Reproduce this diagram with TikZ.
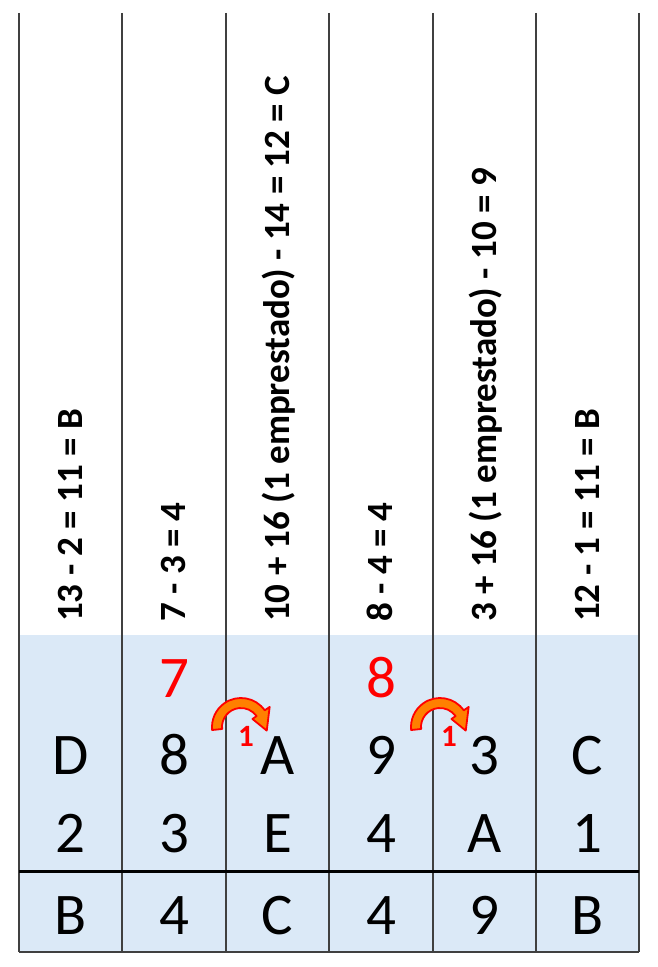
\documentclass[tikz,border=0pt]{standalone}
\usepackage{fontspec}
\setmainfont{Carlito}
\usetikzlibrary{positioning}

\definecolor{cellblue}{RGB}{219,233,247}
\definecolor{gridgray}{RGB}{64,64,64}

\tikzset{
  sumtext/.style={rotate=90, anchor=base west, inner sep=0pt, font=\bfseries\fontsize{37}{37}\selectfont},
  digit/.style={anchor=base, inner sep=0pt, font=\fontsize{59}{59}\selectfont},
  borrowed/.style={digit, text=red},
  carrymark/.style={anchor=base, inner sep=0pt, text=red, font=\bfseries\fontsize{31}{31}\selectfont},
  carryarrow/.style={fill=orange, draw=red, line width=1.8pt, line join=round},
  gridline/.style={gridgray, line width=2pt}
}

\begin{document}
\begin{tikzpicture}[x=1pt,y=1pt]
  \useasboundingbox (0,0) rectangle (658,967);

  % shaded lower part of the table
  \fill [cellblue] (19,15) rectangle (639,332);

  % column lines
  \draw [gridline] (19,954) -- (19,15);
  \draw [gridline] (122,954) -- (122,15);
  \draw [gridline] (226,954) -- (226,15);
  \draw [gridline] (329,954) -- (329,15);
  \draw [gridline] (433,954) -- (433,15);
  \draw [gridline] (536,954) -- (536,15);
  \draw [gridline] (639,954) -- (639,15);
  \draw [gridline] (19,15) -- (639,15);
  \draw [black, line width=3pt] (19,95) -- (639,95);

  % workings, read upwards
  \node [sumtext] (w1) at (82,345) {13 - 2 = 11 = B};
  \node [sumtext] (w2) at (185.5,345) {7 - 3 = 4};
  \node [sumtext] (w3) at (289,345) {10 + 16 (1 emprestado) - 14 = 12 = C};
  \node [sumtext] (w4) at (392.5,345) {8 - 4 = 4};
  \node [sumtext] (w5) at (496,345) {3 + 16 (1 emprestado) - 10 = 9};
  \node [sumtext] (w6) at (599,345) {12 - 1 = 11 = B};

  % digits left after lending
  \node [borrowed] (r2) at (174,269) {7};
  \node [borrowed] (r4) at (381,269) {8};

  % minuend
  \node [digit] (m1) at (70.5,192) {D};
  \node [digit] (m2) at (174,192) {8};
  \node [digit] (m3) at (277.5,192) {A};
  \node [digit] (m4) at (381,192) {9};
  \node [digit] (m5) at (484.5,192) {3};
  \node [digit] (m6) at (587.5,192) {C};

  % subtrahend
  \node [digit] (s1) at (70.5,114) {2};
  \node [digit] (s2) at (174,114) {3};
  \node [digit] (s3) at (277.5,114) {E};
  \node [digit] (s4) at (381,114) {4};
  \node [digit] (s5) at (484.5,114) {A};
  \node [digit] (s6) at (587.5,114) {1};

  % difference
  \node [digit] (d1) at (70.5,32) {B};
  \node [digit] (d2) at (174,32) {4};
  \node [digit] (d3) at (277.5,32) {C};
  \node [digit] (d4) at (381,32) {4};
  \node [digit] (d5) at (484.5,32) {9};
  \node [digit] (d6) at (587.5,32) {B};

  % borrow arrows
  \begin{scope}[shift={(241,240)}]
    \draw [carryarrow] (186:19pt) arc[start angle=186, end angle=35, radius=19pt] -- (35:14pt) -- (-8:26pt) -- (35:35pt) -- (35:29pt) arc[start angle=35, end angle=186, radius=29pt] -- cycle;
  \end{scope}
  \begin{scope}[shift={(440,240)}]
    \draw [carryarrow] (186:19pt) arc[start angle=186, end angle=35, radius=19pt] -- (35:14pt) -- (-8:26pt) -- (35:35pt) -- (35:29pt) arc[start angle=35, end angle=186, radius=29pt] -- cycle;
  \end{scope}
  \node [carrymark] (c3) at (246,220) {1};
  \node [carrymark] (c5) at (449,220) {1};
\end{tikzpicture}
\end{document}
